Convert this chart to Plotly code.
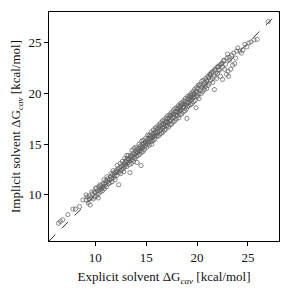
import plotly.graph_objects as go

explicit = [
    6.38, 6.58, 6.8, 7.3, 7.8, 8.05, 8.45, 8.78, 9.1,
    9.1, 9.3, 9.4, 9.5, 9.6, 9.7, 9.8, 9.9, 9.95, 9.4,
    10.0, 10.1, 10.15, 10.2, 10.3, 10.35, 10.4, 10.5, 10.55, 10.6, 10.7, 10.75, 10.8, 10.9, 10.95, 10.3,
    11.0, 11.05, 11.1, 11.2, 11.25, 11.3, 11.4, 11.45, 11.5, 11.6, 11.65, 11.7, 11.8, 11.85, 11.9, 11.95,
    12.0, 12.05, 12.1, 12.2, 12.25, 12.3, 12.35, 12.4, 12.45, 12.5, 12.55, 12.6, 12.7, 12.75, 12.8, 12.85, 12.9, 12.95,
    13.0, 13.05, 13.1, 13.15, 13.2, 13.3, 13.35, 13.4, 13.45, 13.5, 13.55, 13.6, 13.65, 13.7, 13.75, 13.8, 13.85, 13.9, 13.95, 13.5,
    14.0, 14.05, 14.1, 14.1, 14.15, 14.2, 14.25, 14.3, 14.35, 14.4, 14.45, 14.5, 14.5, 14.55, 14.6, 14.65, 14.7, 14.75, 14.8, 14.85, 14.9, 14.95,
    15.0, 15.05, 15.1, 15.15, 15.2, 15.25, 15.3, 15.35, 15.4, 15.45, 15.5, 15.55, 15.6, 15.65, 15.7, 15.75, 15.8, 15.85, 15.9, 15.95, 15.6,
    16.0, 16.05, 16.1, 16.15, 16.2, 16.25, 16.3, 16.35, 16.4, 16.45, 16.5, 16.55, 16.6, 16.65, 16.7, 16.75, 16.8, 16.85, 16.9, 16.95,
    17.0, 17.05, 17.1, 17.15, 17.2, 17.25, 17.3, 17.35, 17.4, 17.45, 17.5, 17.55, 17.6, 17.65, 17.7, 17.75, 17.8, 17.85, 17.9, 17.95,
    18.0, 18.05, 18.1, 18.15, 18.2, 18.25, 18.3, 18.35, 18.4, 18.45, 18.5, 18.55, 18.6, 18.65, 18.7, 18.75, 18.8, 18.85, 18.9, 18.95, 19.0,
    19.0, 19.05, 19.1, 19.15, 19.2, 19.25, 19.3, 19.35, 19.4, 19.45, 19.5, 19.55, 19.6, 19.65, 19.7, 19.75, 19.8, 19.85, 19.9, 19.95,
    20.0, 20.05, 20.1, 20.15, 20.2, 20.3, 20.35, 20.4, 20.5, 20.55, 20.6, 20.7, 20.75, 20.8, 20.9, 20.95,
    21.0, 21.1, 21.15, 21.2, 21.3, 21.35, 21.4, 21.5, 21.6, 21.7, 21.7, 21.8, 21.9, 21.95,
    22.0, 22.1, 22.2, 22.3, 22.35, 22.5, 22.5, 22.6, 22.7, 22.8, 22.9, 23.0, 23.05, 23.1, 23.2,
    23.4, 23.5, 23.6, 23.7, 23.8, 23.9, 24.2, 24.5, 24.7, 24.9, 25.1, 25.3, 25.6, 25.9, 27.0,
    # additional scattered points
    9.2, 9.65, 10.05, 10.45, 10.85, 11.15, 11.55, 11.75, 12.15, 12.45, 12.65, 12.9, 13.1, 13.25, 13.6, 13.8, 14.0, 14.3,
    14.55, 14.7, 14.95, 15.15, 15.3, 15.5, 15.7, 15.9, 16.05, 16.25, 16.4, 16.6, 16.75, 16.95, 17.1, 17.3, 17.45, 17.65,
    17.8, 18.0, 18.15, 18.35, 18.5, 18.7, 18.85, 19.05, 19.25, 19.4, 19.6, 19.75, 19.95, 20.1, 20.25, 20.45, 20.6, 20.85,
    21.05, 21.25, 21.45, 21.55, 21.75, 22.05, 22.25, 22.45, 22.65, 22.95, 23.15, 23.3, 24.0, 24.35,
]

implicit = [
    7.2, 7.37, 7.54, 8.06, 8.6, 8.6, 8.85, 9.5, 10.0,
    9.5, 9.2, 9.9, 9.0, 9.7, 10.1, 9.6, 10.3, 9.8, 9.6,
    10.2, 10.6, 9.9, 10.4, 10.1, 10.8, 10.5, 10.3, 10.9, 10.6, 10.4, 11.1, 10.8, 10.6, 11.2, 9.7,
    11.0, 11.4, 10.8, 11.3, 11.6, 11.1, 11.5, 11.2, 11.8, 11.6, 11.3, 12.0, 11.7, 12.2, 11.9, 11.5,
    12.2, 12.4, 11.9, 12.3, 12.6, 11.0, 12.2, 12.7, 12.4, 12.1, 12.8, 12.5, 12.9, 12.6, 12.3, 13.1, 12.8, 13.3,
    13.0, 13.4, 12.8, 13.6, 13.2, 13.5, 13.0, 12.2, 13.7, 13.4, 13.1, 13.8, 13.5, 14.1, 13.3, 13.7, 14.0, 13.6, 14.3, 13.9,
    14.1, 13.8, 13.2, 14.5, 14.2, 13.9, 14.6, 14.3, 14.0, 14.8, 14.4, 12.9, 14.6, 14.2, 15.0, 14.7, 14.3, 15.1, 14.8, 14.5, 15.2, 14.9,
    15.1, 14.7, 15.4, 15.0, 15.6, 15.2, 14.9, 15.5, 15.8, 15.3, 15.6, 15.0, 16.0, 15.7, 15.4, 16.1, 15.8, 15.5, 16.2, 15.9, 15.3,
    16.1, 15.8, 16.5, 16.2, 15.8, 16.6, 16.3, 16.0, 16.8, 16.4, 16.1, 16.9, 16.6, 16.2, 17.0, 16.7, 16.4, 17.2, 16.9, 16.5,
    17.2, 16.8, 17.5, 17.1, 16.7, 17.6, 17.3, 16.9, 17.8, 17.4, 17.0, 17.9, 17.6, 17.2, 18.0, 17.7, 17.3, 18.2, 17.9, 17.5,
    18.2, 17.8, 18.5, 18.1, 17.6, 18.6, 18.3, 17.9, 18.8, 18.4, 18.0, 18.9, 18.6, 18.2, 19.0, 18.7, 18.3, 19.2, 18.9, 18.5, 17.55,
    19.1, 18.7, 19.5, 19.1, 18.8, 19.6, 19.3, 18.9, 19.8, 19.4, 19.0, 19.9, 19.6, 19.2, 20.0, 19.7, 19.3, 20.2, 18.6, 19.8,
    20.2, 19.7, 20.5, 20.0, 19.5, 20.3, 20.8, 20.0, 20.6, 20.2, 20.9, 20.4, 21.1, 20.7, 21.3, 20.5,
    21.2, 20.8, 21.6, 21.0, 21.8, 21.3, 22.0, 21.5, 22.2, 20.4, 21.7, 22.3, 21.5, 22.6,
    22.0, 22.7, 22.3, 21.7, 22.9, 21.4, 22.6, 23.2, 22.4, 22.9, 21.9, 23.9, 22.2, 21.7, 23.3,
    23.8, 22.8, 24.0, 22.96, 23.5, 24.2, 24.2, 24.3, 24.85, 24.6, 25.0, 25.1, 25.3, 25.35, 27.1,
    # additional scattered points
    9.8, 10.3, 10.7, 11.0, 11.5, 11.8, 12.1, 12.4, 12.9, 13.1, 13.3, 13.6, 13.9, 13.9, 14.4, 14.6, 14.7, 15.0,
    15.3, 15.4, 15.6, 15.9, 15.9, 16.2, 16.4, 16.6, 16.7, 16.9, 17.1, 17.3, 17.4, 17.6, 17.8, 17.9, 18.1, 18.3,
    18.5, 18.6, 18.8, 19.0, 19.1, 19.3, 19.5, 19.7, 19.8, 20.0, 20.2, 20.4, 20.6, 20.8, 20.9, 21.2, 21.3, 21.5,
    21.7, 21.9, 22.1, 21.1, 22.4, 22.6, 22.8, 23.0, 23.3, 23.5, 23.6, 22.4, 24.5, 24.0,
]

axis_range = [5.45, 28.05]
tick_vals = [10, 15, 20, 25]

font = dict(family="Liberation Serif, DejaVu Serif, serif", size=13, color="#111")

fig = go.Figure()
fig.add_trace(go.Scatter(
    x=axis_range, y=axis_range, mode="lines",
    line=dict(color="black", width=0.8, dash="dash"),
    hoverinfo="skip", showlegend=False,
))
fig.add_trace(go.Scatter(
    x=explicit, y=implicit, mode="markers",
    marker=dict(symbol="circle-open", size=4.2, color="#5a5a5a", line=dict(width=0.7)),
    showlegend=False,
))

axis_common = dict(
    range=axis_range, tickvals=tick_vals, showgrid=False, zeroline=False,
    showline=True, linecolor="black", linewidth=1, mirror=True,
    ticks="outside", ticklen=4, tickwidth=1, tickcolor="black",
    tickfont=font, automargin=False,
)

fig.update_layout(
    width=283, height=283,
    margin=dict(l=41, r=12, t=4, b=50),
    paper_bgcolor="white", plot_bgcolor="white",
    font=font,
    xaxis=dict(**axis_common, title=dict(text="Explicit solvent ΔG<sub><i>cav</i></sub> [kcal/mol]", font=font, standoff=8)),
    yaxis=dict(**axis_common, title=dict(text="Implicit solvent ΔG<sub><i>cav</i></sub> [kcal/mol]", font=font, standoff=4)),
)

fig.write_html("out.html")
